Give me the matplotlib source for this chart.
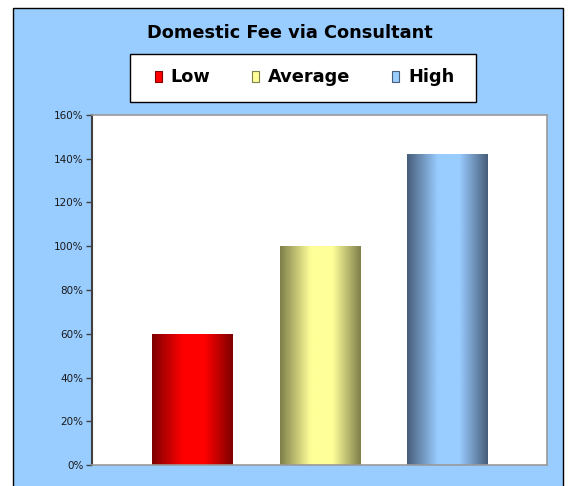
import numpy as np
import matplotlib
matplotlib.use("Agg")
import matplotlib.pyplot as plt
from matplotlib.patches import Rectangle, Patch
from matplotlib.colors import LinearSegmentedColormap

# chart data
title = "Domestic Fee via Consultant"
series = ["Low", "Average", "High"]
values = [60, 100, 142]          # percent
yticks = [0, 20, 40, 60, 80, 100, 120, 140, 160]

# (edge colour, centre colour) for the cylinder-like shading
shades = [("#7f0000", "#ff0000"),
          ("#7f7f4a", "#ffff99"),
          ("#475d7a", "#99ccff")]

BG = "#99ccff"
W, H = 569, 486

def fx(px):
    return px / W

def fy(py):
    return 1 - py / H

fig = plt.figure(figsize=(W / 100, H / 100), dpi=100)
fig.patch.set_facecolor("white")

# outer chart area
fig.patches.append(Rectangle((fx(13), -0.02), fx(563 - 13), (H - 8) / H + 0.02,
                             transform=fig.transFigure, facecolor=BG,
                             edgecolor="black", linewidth=1.0, zorder=-5))

ax = fig.add_axes([fx(92), 21 / H, fx(455), 350 / H])
ax.set_zorder(1)
ax.set_facecolor("white")

x = np.arange(len(series))
bars = ax.bar(x, values, width=0.635, color="none", edgecolor="none")

# horizontal gradient inside each bar
t = np.linspace(0, 1, 200)
prof = np.clip(np.minimum(t / 0.38, (1 - t) / 0.35), 0, 1)
for b, (dark, light) in zip(bars, shades):
    cmap = LinearSegmentedColormap.from_list("g", [dark, light])
    im = ax.imshow(prof[np.newaxis, :], cmap=cmap, vmin=0, vmax=1, aspect="auto",
                   extent=[b.get_x(), b.get_x() + b.get_width(), 0, b.get_height()],
                   interpolation="bilinear", zorder=2)
    im.set_clip_path(b)

ax.set_xlim(-0.79, 2.78)
ax.set_ylim(0, 160)
ax.set_xticks([])
ax.set_yticks(yticks)
ax.set_yticklabels([f"{v}%" for v in yticks], fontsize=7.5, color="#1a1a1a")
ax.tick_params(axis="y", length=4, width=1, color="#404040", pad=2)

for side in ["top", "right", "bottom"]:
    ax.spines[side].set_color("#999999")
    ax.spines[side].set_linewidth(1.2)
ax.spines["left"].set_color("#404040")
ax.spines["left"].set_linewidth(1.5)

fig.text(fx(290), fy(33), title, ha="center", va="center",
         fontsize=12.8, fontweight="bold")

# legend box drawn separately so the padding can match
fig.patches.append(Rectangle((fx(130), fy(102)), fx(476 - 130), (102 - 54) / H,
                             transform=fig.transFigure, facecolor="white",
                             edgecolor="black", linewidth=1.0, zorder=2))

handles = [Patch(facecolor=light, edgecolor=dark, linewidth=0.8) for dark, light in shades]
leg = fig.legend(handles, series, loc="center", ncol=3,
                 bbox_to_anchor=(fx(304.5), fy(77.5)),
                 prop={"weight": "bold", "size": 12.8},
                 frameon=False, borderpad=0, borderaxespad=0,
                 handlelength=0.4, handleheight=0.56, handletextpad=0.5,
                 columnspacing=2.35)
leg.set_zorder(3)

fig.savefig("out.png", dpi=100, facecolor=fig.get_facecolor())
